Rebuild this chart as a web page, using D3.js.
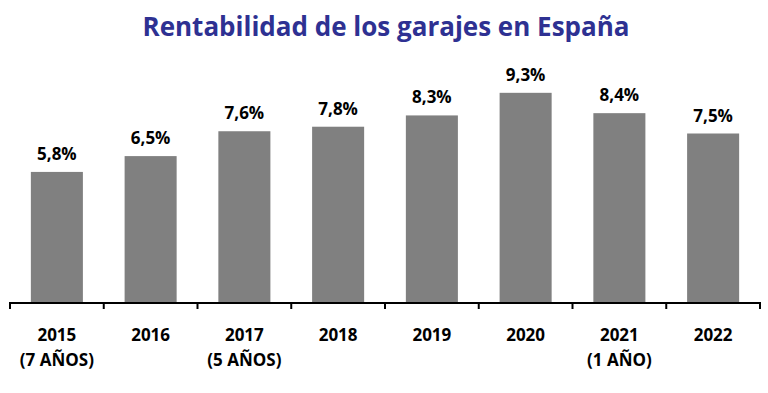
<!DOCTYPE html>
<html>
<head>
<meta charset="utf-8">
<script src="https://cdn.jsdelivr.net/npm/d3@7"></script>
<style>
  body { margin: 0; background: #fff; }
  text { font-family: "Open Sans", "Noto Sans", sans-serif; font-weight: bold; }
</style>
</head>
<body>
<svg width="768" height="393"></svg>
<script>
const years   = ["2015", "2016", "2017", "2018", "2019", "2020", "2021", "2022"],
      notes   = ["(7 AÑOS)", "", "(5 AÑOS)", "", "", "", "(1 AÑO)", ""],
      values  = [5.8, 6.5, 7.6, 7.8, 8.3, 9.3, 8.4, 7.5];

const svg = d3.select("svg");

const x = d3.scaleBand()
            .domain(years)
            .range([10, 760])
            .paddingInner(0.445)
            .paddingOuter(0.2225);

const y = d3.scaleLinear()
            .domain([0, 10])
            .range([303, 77]);

// title
svg.append("text")
   .attr("x", 386)
   .attr("y", 36)
   .attr("text-anchor", "middle")
   .attr("fill", "#2e3192")
   .style("font-size", "26px")
   .text("Rentabilidad de los garajes en España");

// bars
svg.selectAll("rect.bar")
   .data(values)
   .join("rect")
     .attr("class", "bar")
     .attr("x", (d, i) => x(years[i]))
     .attr("y", d => y(d))
     .attr("width", x.bandwidth())
     .attr("height", d => y(0) - y(d))
     .attr("fill", "#808080");

// value labels
svg.selectAll("text.val")
   .data(values)
   .join("text")
     .attr("class", "val")
     .attr("x", (d, i) => x(years[i]) + x.bandwidth() / 2)
     .attr("y", d => y(d) - 12)
     .attr("text-anchor", "middle")
     .style("font-size", "17px")
     .attr("fill", "#000")
     .text(d => d.toFixed(1).replace(".", ",") + "%");

// axis line + ticks between categories
const step = x.step();
const ticks = d3.range(years.length + 1).map(i => 10 + i * step);
svg.append("line")
   .attr("x1", 10).attr("x2", 760)
   .attr("y1", 303).attr("y2", 303)
   .attr("stroke", "#000")
   .attr("stroke-width", 2);
svg.selectAll("line.tick")
   .data(ticks)
   .join("line")
     .attr("class", "tick")
     .attr("x1", d => d).attr("x2", d => d)
     .attr("y1", 302).attr("y2", 309)
     .attr("stroke", "#000")
     .attr("stroke-width", 2);

// category labels
const cat = svg.selectAll("text.cat")
   .data(years)
   .join("text")
     .attr("class", "cat")
     .attr("x", d => x(d) + x.bandwidth() / 2)
     .attr("text-anchor", "middle")
     .style("font-size", "17px")
     .attr("fill", "#000");
cat.append("tspan").attr("y", 341).attr("x", d => x(d) + x.bandwidth() / 2).text(d => d);
cat.append("tspan").attr("y", 366).attr("x", d => x(d) + x.bandwidth() / 2).text((d, i) => notes[i]);
</script>
</body>
</html>
